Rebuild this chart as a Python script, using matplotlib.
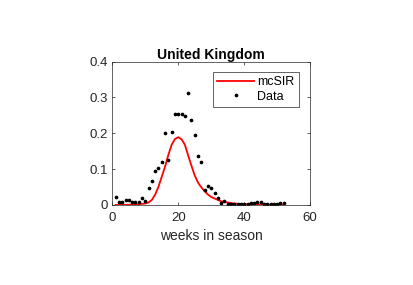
import matplotlib
matplotlib.use("Agg")
import matplotlib.pyplot as plt

plt.rcParams["font.family"] = ["Liberation Sans", "DejaVu Sans"]

# observed weekly data
weeks = list(range(1, 53))
data = [0.022, 0.007, 0.007, 0.013, 0.014, 0.007, 0.009, 0.007, 0.019, 0.012,
        0.046, 0.066, 0.094, 0.103, 0.121, 0.200, 0.125, 0.203, 0.255, 0.255,
        0.255, 0.248, 0.311, 0.237, 0.196, 0.136, 0.119, 0.042, 0.054, 0.046,
        0.033, 0.020, 0.006, 0.012, 0.002, 0.002, 0.002, 0.002, 0.002, 0.003,
        0.003, 0.004, 0.004, 0.008, 0.009, 0.002, 0.002, 0.002, 0.002, 0.003,
        0.004, 0.005]

# mcSIR model curve
model = [0.0, 0.0, 0.0, 0.0002, 0.0005, 0.001, 0.0015, 0.002, 0.003, 0.004,
         0.007, 0.014, 0.029, 0.051, 0.079, 0.107, 0.140, 0.168, 0.184, 0.189,
         0.183, 0.168, 0.138, 0.109, 0.082, 0.062, 0.049, 0.038, 0.029, 0.022,
         0.018, 0.014, 0.010, 0.008, 0.007, 0.005, 0.004, 0.003, 0.0025, 0.002,
         0.0018, 0.0015, 0.0012, 0.001, 0.0009, 0.0008, 0.0007, 0.0006, 0.0005,
         0.0004, 0.0004, 0.0003]

xticks = [0, 20, 40, 60]
yticks = [0, 0.1, 0.2, 0.3, 0.4]

fig = plt.figure(figsize=(4.13, 2.85), dpi=100)
ax = fig.add_axes([0.272, 0.281, 0.479, 0.503])
ax.plot(weeks, model, color="red", lw=1.3, label="mcSIR")
ax.plot(weeks, data, ".", color="black", ms=3.3, label="Data")

ax.set_xlim(0, 60)
ax.set_ylim(0, 0.4)
ax.set_xticks(xticks)
ax.set_yticks(yticks)
ax.set_yticklabels(["0", "0.1", "0.2", "0.3", "0.4"])
ax.tick_params(direction="in", length=2.5, width=0.5, labelsize=9.5,
               colors="0.15", top=True, right=True, pad=3)
ax.tick_params(axis="x", pad=5)
for s in ax.spines.values():
    s.set_linewidth(0.5)
    s.set_color("0.15")
ax.set_title("United Kingdom", fontsize=10, fontweight="bold", pad=2)
ax.set_xlabel("weeks in season", fontsize=10, color="0.15", labelpad=4)

leg = ax.legend(loc="upper right", bbox_to_anchor=(0.944, 0.929),
                borderaxespad=0, fontsize=9, fancybox=False,
                handlelength=2.95, handletextpad=0.25, framealpha=1,
                borderpad=0.35, labelspacing=0.2, markerscale=1)
leg.get_frame().set_edgecolor("0.15")
leg.get_frame().set_linewidth(0.5)

fig.savefig("out.png", dpi=100)
